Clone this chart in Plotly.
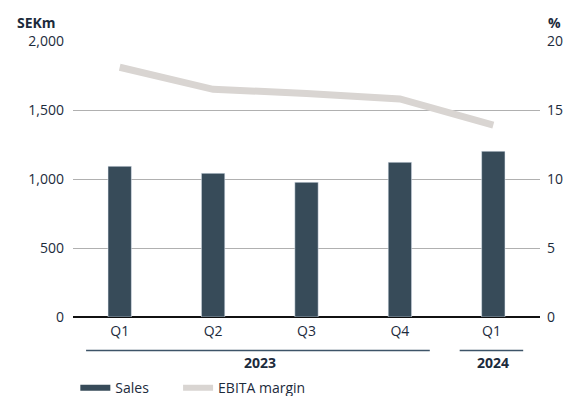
import plotly.graph_objects as go

quarters = ["Q1", "Q2", "Q3", "Q4", "Q1 "]
sales = [1092, 1041, 976, 1121, 1201]
ebita_margin = [18.1, 16.5, 16.2, 15.8, 13.9]
years = ["2023", "2024"]
year_spans = [(0, 3), (4, 4)]

BAR = "#374b59"
LINE = "#d9d5d2"
TXT = "#1c2b3c"
FONT = "Open Sans"

fig = go.Figure()
fig.add_trace(go.Bar(x=quarters, y=sales, marker_color=BAR, width=0.25,
                     showlegend=False, yaxis="y"))
fig.add_trace(go.Scatter(x=quarters, y=ebita_margin, mode="lines",
                         line=dict(color=LINE, width=7), showlegend=False,
                         yaxis="y2"))
# legend entries
fig.add_trace(go.Scatter(x=[None], y=[None], mode="lines", name="Sales",
                         line=dict(color=BAR, width=6), legend="legend"))
fig.add_trace(go.Scatter(x=[None], y=[None], mode="lines", name="EBITA margin",
                         line=dict(color=LINE, width=6), legend="legend2"))

shapes = []
annotations = []
for yr, (a, b) in zip(years, year_spans):
    shapes.append(dict(type="line", xref="x", yref="paper",
                       x0=a - 0.36, x1=b + 0.32, y0=-0.121, y1=-0.121,
                       line=dict(color="#3d5468", width=1.5)))
    annotations.append(dict(text="<b>" + yr + "</b>", xref="x", yref="paper",
                            x=(a + b) / 2, y=-0.165, showarrow=False,
                            font=dict(size=14, color=TXT, family=FONT),
                            xanchor="center", yanchor="middle"))
annotations.append(dict(text="<b>SEKm</b>", xref="paper", yref="paper",
                        x=-0.032, y=1.068, showarrow=False, xanchor="right",
                        yanchor="middle", font=dict(size=14, color=TXT, family=FONT)))
annotations.append(dict(text="<b>%</b>", xref="paper", yref="paper",
                        x=1.03, y=1.068, showarrow=False, xanchor="center",
                        yanchor="middle", font=dict(size=14, color=TXT, family=FONT)))

leg_common = dict(orientation="h", y=-0.2, xanchor="left", yanchor="top",
                  font=dict(size=14, color=TXT), itemwidth=30, bgcolor="rgba(0,0,0,0)")

fig.update_layout(
    width=566, height=396,
    margin=dict(l=73, r=26, t=41, b=79, autoexpand=False),
    plot_bgcolor="white", paper_bgcolor="white",
    font=dict(family=FONT, size=14, color=TXT),
    xaxis=dict(type="category", showgrid=False, ticks="", tickfont=dict(size=14),
               range=[-0.5, 4.5], automargin=False, ticklabelstandoff=4),
    yaxis=dict(range=[0, 2000], tickvals=[0, 500, 1000, 1500, 2000],
               tickformat=",", showgrid=True, gridcolor="#b0b0b0", gridwidth=1,
               zeroline=True, zerolinecolor="#111111", zerolinewidth=2,
               ticks="", ticklabelstandoff=8, automargin=False, layer="below traces"),
    yaxis2=dict(range=[0, 20], tickvals=[0, 5, 10, 15, 20], overlaying="y",
                side="right", showgrid=False, zeroline=False, ticks="",
                ticklabelstandoff=6, automargin=False),
    bargap=0.75,
    shapes=shapes,
    annotations=annotations,
    legend=dict(x=0.005, **leg_common),
    legend2=dict(x=0.225, **leg_common),
)

fig.write_html("out.html")
